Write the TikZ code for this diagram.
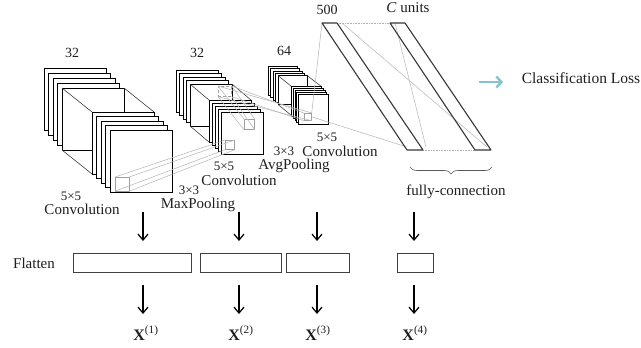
\documentclass[tikz,border=0pt]{standalone}
\usepackage{fontspec}
\setmainfont{Liberation Serif}
\usetikzlibrary{arrows.meta,decorations.pathreplacing}
\definecolor{tealarrow}{RGB}{128,198,204}
\definecolor{ink}{RGB}{30,30,30}
\definecolor{layerline}{RGB}{55,55,55}
\begin{document}
\begin{tikzpicture}[x=1pt,y=-1pt,
  sq/.style={draw=black, fill=white, line width=1pt},
  edge/.style={draw=black!75, line width=0.6pt},
  gl/.style={draw=gray!55, line width=0.55pt},
  gsq/.style={draw=gray!75, line width=0.7pt, inner sep=0pt, anchor=north west},
  layer/.style={draw=layerline, line width=1.1pt, line join=round},
  lab/.style={font=\fontsize{15}{17}\selectfont, text=ink, inner sep=0pt},
  num/.style={font=\fontsize{14}{16}\selectfont, text=ink, inner sep=0pt},
  small/.style={font=\fontsize{13}{15}\selectfont, text=ink, inner sep=0pt},
  fbox/.style={draw=black!75, line width=0.9pt, inner sep=0pt, anchor=north west},
  arr/.style={draw=black, line width=1.2pt, -{Straight Barb[length=6pt,width=10pt]}},
  xl/.style={font=\fontsize{16}{18}\selectfont, text=ink, inner sep=0pt}
]
\useasboundingbox (0,0) rectangle (641,348);

% ---------- block 1 ----------
\foreach \i in {0,...,4} \draw[sq] ({44+4.5*\i},{68+5*\i}) rectangle ++(62,62);
\draw[edge] (62,88) -- (92,112);
\draw[edge] (124,88) -- (154,112);
\draw[edge] (62,150) -- (92,174);
\foreach \i in {0,...,4} \draw[sq] ({92+4.5*\i},{112+4.5*\i}) rectangle ++(62,62);

% ---------- block 2 ----------
\foreach \i in {0,...,4} \draw[sq] ({176+3.5*\i},{70+3.5*\i}) rectangle ++(42,42);
\draw[edge] (190,84) -- (209.5,100.5);
\draw[edge] (232,84) -- (251.5,100.5);
\draw[edge] (190,126) -- (209.5,142.5);
\foreach \i in {0,...,4} \draw[sq] ({209.5+3.1*\i},{100.5+3.1*\i}) rectangle ++(42,42);

% ---------- block 3 ----------
\foreach \i in {0,...,4} \draw[sq] ({268.5+2.45*\i},{66.5+2.3*\i}) rectangle ++(29,29);
\draw[edge] (278.3,75.7) -- (291.7,86.7);
\draw[edge] (307.3,75.7) -- (321.7,86.7);
\draw[edge] (278.3,104.7) -- (291.7,115.7);
\foreach \i in {0,...,4} \draw[sq] ({291.7+1.65*\i},{86.7+1.9*\i}) rectangle ++(30,30);

% ---------- receptive field squares ----------
\node[gsq, minimum size=13.5pt] (s1) at (115,177) {};
\node[gsq, minimum size=9pt] (s2) at (225,140) {};
\node[gsq, minimum width=13pt, minimum height=10pt, densely dashed] (d2) at (218,86) {};
\node[gsq, minimum size=10pt] (s2b) at (244,119) {};
\node[gsq, minimum size=7pt] (s3) at (304,113) {};

\foreach \a in {north west,north east,south west,south east} {
  \draw[gl] (s1.\a) -- (s2.\a);
  \draw[gl] (d2.\a) -- (s2b.\a);
}
\draw[gl] (d2.north east) -- (s3.north west);
\draw[gl] (d2.south east) -- (s3.south west);
\draw[gl] (d2.north west) -- (s3.north east);
\draw[gl] (d2.south west) -- (s3.south east);

% ---------- fully connected layers ----------
\coordinate (la) at (322,23);
\coordinate (lb) at (337,23);
\coordinate (lc) at (423,150);
\coordinate (ld) at (407,150);
\coordinate (ca) at (390,23);
\coordinate (cb) at (405,23);
\coordinate (cc) at (491,150);
\coordinate (cd) at (475,150);
\coordinate (lbx) at (342,23);
\coordinate (cax) at (395,23);
\coordinate (ccx) at (487,147);
\coordinate (lcx) at (426,147);
\coordinate (ldx) at (407,147);

\draw[gl] (s3.north east) -- (la);
\draw[gl] (s3.east) -- (ldx);
\draw[gl] (lbx) -- (ccx);
\draw[gl] (cax) -- (lcx);
\draw[gray!60, line width=0.6pt, densely dotted] (lb) -- (ca);
\draw[gray!60, line width=0.6pt, densely dotted] (lc) -- (cd);
\draw[layer] (la) -- (lb) -- (lc) -- (ld) -- cycle;
\draw[layer] (ca) -- (cb) -- (cc) -- (cd) -- cycle;

% brace
\coordinate (bl) at (410,167);
\coordinate (br) at (492,167);
\draw[draw=gray!70!black, line width=0.6pt, decorate, decoration={brace, mirror, amplitude=7pt}] (bl) -- (br);

% classification arrow
\coordinate (ta) at (479,82);
\coordinate (tb) at (503,82);
\draw[draw=tealarrow, line width=2.4pt, -{Straight Barb[length=5pt,width=11pt]}] (ta) -- (tb);

% ---------- labels ----------
\node[num] (n32a) at (72,53) {32};
\node[num] (n32b) at (197,53) {32};
\node[num] (n64) at (284,51) {64};
\node[num] (n500) at (327,10) {500};
\node[lab] (cu) at (408,8) {\textit{C} units};
\node[small] (k1) at (71,196) {5×5};
\node[lab] (c1) at (82,209) {Convolution};
\node[small] (p1k) at (189,190) {3×3};
\node[lab] (p1) at (198,205) {MaxPooling};
\node[small] (k2) at (224,166) {5×5};
\node[lab] (c2) at (239,180) {Convolution};
\node[small] (p2k) at (284,151) {3×3};
\node[lab] (p2) at (294,166) {AvgPooling};
\node[small] (k3) at (327,137) {5×5};
\node[lab] (c3) at (340,151) {Convolution};
\node[lab] (fc) at (456,192) {fully-connection};
\node[font=\fontsize{15.5}{18}\selectfont, text=ink, inner sep=0pt] (cl) at (581,78) {Classification Loss};
\node[lab] (fl) at (34,263) {Flatten};

% ---------- flatten ----------
\node[fbox, minimum width=118pt, minimum height=19pt] (f1) at (73,253) {};
\node[fbox, minimum width=81pt, minimum height=19pt] (f2) at (199.5,253) {};
\node[fbox, minimum width=63pt, minimum height=19pt] (f3) at (286,253) {};
\node[fbox, minimum width=36pt, minimum height=19pt] (f4) at (396.5,253) {};

\coordinate (u1) at (143,212); \coordinate (v1) at (143,241);
\coordinate (u2) at (239,212); \coordinate (v2) at (239,241);
\coordinate (u3) at (317,212); \coordinate (v3) at (317,241);
\coordinate (u4) at (414,212); \coordinate (v4) at (414,241);
\coordinate (w1) at (143,285); \coordinate (z1) at (143,314);
\coordinate (w2) at (239,285); \coordinate (z2) at (239,314);
\coordinate (w3) at (317,285); \coordinate (z3) at (317,314);
\coordinate (w4) at (414,285); \coordinate (z4) at (414,314);
\foreach \k in {1,2,3,4} {
  \draw[arr] (u\k) -- (v\k);
  \draw[arr] (w\k) -- (z\k);
}

\node[xl] (x1) at (146,333) {\textbf{X}\textsuperscript{(1)}};
\node[xl] (x2) at (241,333) {\textbf{X}\textsuperscript{(2)}};
\node[xl] (x3) at (318,333) {\textbf{X}\textsuperscript{(3)}};
\node[xl] (x4) at (415,333) {\textbf{X}\textsuperscript{(4)}};
\end{tikzpicture}
\end{document}
